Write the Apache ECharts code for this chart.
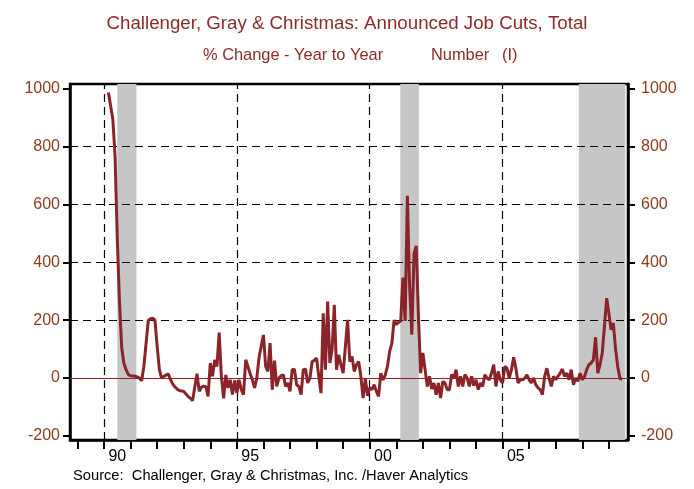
<!DOCTYPE html>
<html lang="en">
<head>
    <meta charset="UTF-8">
    <title>Announced Job Cuts</title>
    <style>
        html, body { margin: 0; padding: 0; background: #fff; }
        #main { width: 694px; height: 489px; }
    </style>
</head>
<body>
<div id="main"></div>

<script src="https://cdn.jsdelivr.net/npm/echarts@6.0.0/dist/echarts.min.js"></script>
<script>
    // monthly % change y/y, first point is Mar 1990
    const startYear = 1990;
    const startMonth = 2;   // 0 = Jan
    const jobCuts = [
        987, 940, 893, 766, 480, 260, 105, 50, 28, 12, 8, 7, 6, 4, 0, -9,
        40, 120, 199, 205, 207, 200, 110, 30, 0, 6, 10, 15, -5, -20, -30, -38,
        -43, -45, -46, -55, -64, -70, -78, -30, 15, -46, -32, -28, -30, -63, 52, 6,
        63, 40, 157, 6, -70, 11, -34, -6, -57, -8, -52, -6, -40, -57, 63, 40,
        15, -6, -34, 0, 70, 110, 149, 40, 23, 121, -40, 60, -29, 0, 8, 11,
        -29, -17, -46, 29, 31, -23, -29, -57, 29, 31, -17, 0, 57, 61, 69, 6,
        -52, 224, 29, 264, 52, 98, 253, 29, 80, 46, 17, 109, 201, 57, 75, 23,
        46, 57, 6, -69, 0, -61, -34, -40, -23, -46, -63, 17, -6, 10, 40, 92,
        120, 200, 185, 192, 198, 347, 197, 630, 320, 150, 430, 457, 214, 17, 87, 29,
        -29, 6, -38, -17, -58, -17, -69, -12, -17, -40, -40, 12, 0, 29, -29, 6,
        -29, 12, 0, -29, 6, -26, -6, -40, -17, -29, 11, 0, -6, 17, 46, -29,
        23, -6, -17, 40, 34, 0, 29, 72, 34, -17, -6, -6, 0, 11, -6, -17,
        0, -23, -34, -40, -57, 6, 34, 0, -29, 6, -6, 6, 17, 31, 6, 17,
        -6, 29, -23, 0, -11, 17, -6, 6, 29, 46, 52, 63, 141, 17, 46, 86,
        178, 276, 224, 167, 190, 103, 40, -2, -3
    ];

    // recessions (fractional years)
    const recessions = [[1990.5, 1991.22], [2001.15, 2001.85], [2007.87, 2009.62]];

    const yTicks = [-200, 0, 200, 400, 600, 800, 1000];
    const yGridLines = [200, 400, 600, 800];
    const xTickYears = [1989, 1990, 1991, 1992, 1993, 1994, 1995, 1996, 1997, 1998, 1999,
        2000, 2001, 2002, 2003, 2004, 2005, 2006, 2007, 2008, 2009];
    const xLabelYears = [1990, 1995, 2000, 2005];
    const xLabels = ['90', '95', '00', '05'];

    const maroon = '#8a2428';
    const titleRed = '#8b2a2a';
    const brown = '#8d3c1e';
    const font = '"Liberation Sans", Arial, sans-serif';

    let points = jobCuts.map((v, i) => [startYear + (startMonth + i) / 12, v]);

    const yAxisBase = {
        type: 'value',
        min: -214,
        max: 1016,
        axisLine: {show: true, lineStyle: {color: '#000', width: 2.5}},
        axisTick: {show: true, inside: false, length: 7, customValues: yTicks, lineStyle: {color: '#000', width: 2}},
        axisLabel: {customValues: yTicks, formatter: v => String(v), color: brown, fontSize: 16, fontFamily: font},
        splitLine: {show: false}
    };

    let myChart = echarts.init(document.getElementById('main'), null, {renderer: 'canvas'});
    myChart.setOption({
        animation: false,
        backgroundColor: '#fff',
        title: [
            {text: 'Challenger, Gray & Christmas: Announced Job Cuts, Total', left: 'center', top: 9,
                textStyle: {color: titleRed, fontSize: 18.7, fontWeight: 'normal', fontFamily: font}}
        ],
        graphic: [
            {type: 'text', left: 203, top: 47, style: {text: '% Change - Year to Year', fill: titleRed, font: '16.4px ' + font}},
            {type: 'text', left: 431, top: 47, style: {text: 'Number', fill: titleRed, font: '16.4px ' + font}},
            {type: 'text', left: 502, top: 47, style: {text: '(I)', fill: titleRed, font: '16.4px ' + font}},
            {type: 'text', left: 73, top: 468, style: {text: 'Source:  Challenger, Gray & Christmas, Inc. /Haver Analytics', fill: '#000', font: '14.7px ' + font}}
        ],
        grid: {left: 70, right: 66, top: 84, bottom: 49, show: true, borderColor: '#000', borderWidth: 2.5, backgroundColor: 'transparent'},
        xAxis: {
            type: 'value',
            min: 1988.72,
            max: 2009.72,
            axisLine: {show: true, onZero: false, lineStyle: {color: '#000', width: 2.5}},
            axisTick: {show: true, length: 9, customValues: xTickYears, lineStyle: {color: '#000', width: 2}},
            axisLabel: {
                customValues: xLabelYears.map(y => y + 0.5),
                formatter: v => xLabels[xLabelYears.indexOf(Math.floor(v))],
                color: '#000', fontSize: 16, fontFamily: font, margin: 9
            },
            splitLine: {show: false}
        },
        yAxis: [
            Object.assign({}, yAxisBase, {position: 'left', axisLabel: Object.assign({}, yAxisBase.axisLabel, {margin: 10})}),
            Object.assign({}, yAxisBase, {position: 'right', axisLabel: Object.assign({}, yAxisBase.axisLabel, {margin: 13})})
        ],
        series: [
            {
                name: 'recessions',
                type: 'line',
                data: [],
                z: 1,
                silent: true,
                markArea: {
                    silent: true,
                    itemStyle: {color: '#c6c6c6'},
                    data: recessions.map(r => [{xAxis: r[0]}, {xAxis: r[1]}])
                }
            },
            {
                name: 'grid lines',
                type: 'line',
                data: [],
                z: 2,
                silent: true,
                markLine: {
                    silent: true,
                    symbol: ['none', 'none'],
                    label: {show: false},
                    lineStyle: {color: '#000', width: 1.2, type: [8, 5]},
                    data: xLabelYears.map(y => ({xAxis: y})).concat(yGridLines.map(v => ({yAxis: v})))
                }
            },
            {
                name: 'zero',
                type: 'line',
                data: [],
                z: 3,
                silent: true,
                markLine: {
                    silent: true,
                    symbol: ['none', 'none'],
                    label: {show: false},
                    lineStyle: {color: maroon, width: 1.2, type: 'solid'},
                    data: [{yAxis: 0}]
                }
            },
            {
                name: 'Job Cuts',
                type: 'line',
                data: points,
                z: 5,
                showSymbol: false,
                lineStyle: {color: maroon, width: 3},
                itemStyle: {color: maroon}
            }
        ]
    });
</script>
</body>
</html>
